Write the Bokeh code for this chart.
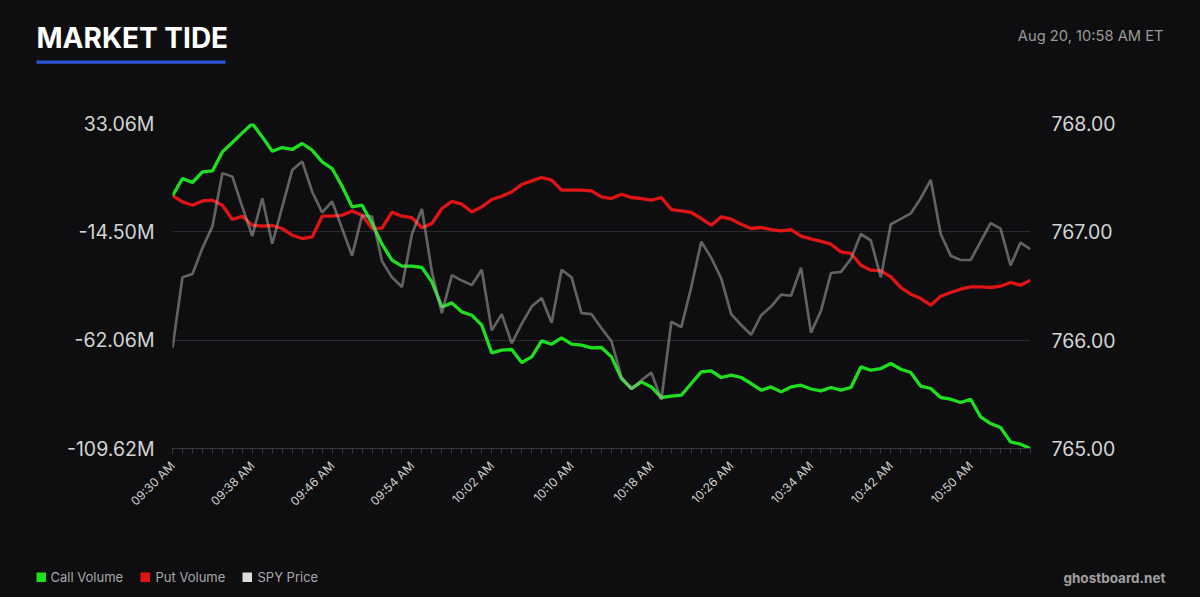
import math
from bokeh.plotting import figure
from bokeh.layouts import column
from bokeh.models import Range1d, LinearAxis, FixedTicker, PrintfTickFormatter
from bokeh.core.properties import value
from bokeh.embed import file_html
from bokeh.resources import INLINE

# ---------------- data ----------------
minutes = list(range(87))  # 09:30 .. 10:56, one point per minute

call_volume = [
    1.40, 8.91, 7.16, 11.81, 12.25, 20.59, 24.72, 28.93, 33.06, 27.18,
    20.90, 22.52, 21.65, 24.28, 21.34, 16.20, 13.30, 5.53, -3.55, -2.81,
    -10.71, -19.93, -26.95, -29.59, -29.59, -30.16, -36.48, -47.46, -45.70, -49.65,
    -51.10, -55.49, -67.65, -66.47, -66.16, -71.87, -69.41, -62.38, -63.83, -61.07,
    -63.83, -64.27, -65.46, -65.28, -69.41, -78.89, -83.28, -80.38, -82.58, -87.23,
    -86.66, -86.22, -81.09, -75.99, -75.55, -78.45, -77.44, -78.45, -81.09, -84.03,
    -82.58, -84.77, -82.58, -81.83, -83.50, -84.33, -82.84, -84.03, -82.84, -73.80,
    -75.25, -74.50, -72.30, -74.81, -76.26, -82.27, -83.28, -87.23, -87.98, -89.43,
    -87.98, -95.75, -98.65, -100.40, -106.72, -107.73, -109.62,
]

put_volume = [
    1.40, -1.36, -2.81, -0.92, -0.61, -2.81, -9.09, -7.64, -11.59, -12.03,
    -11.72, -13.04, -15.98, -17.43, -16.73, -7.64, -7.64, -7.20, -5.31, -7.20,
    -13.04, -12.90, -5.88, -7.64, -8.30, -12.69, -10.84, -4.26, -1.14, -2.37,
    -5.75, -3.55, -0.31, 1.14, 3.03, 6.28, 7.86, 9.35, 8.17, 3.78,
    3.78, 3.78, 3.47, 0.84, 0.13, 2.02, 0.57, 0.13, -0.61, 0.57,
    -4.70, -5.31, -6.01, -8.65, -11.59, -7.94, -8.95, -11.15, -13.04, -12.60,
    -13.48, -14.09, -13.48, -16.42, -17.60, -18.70, -19.93, -23.31, -24.01, -29.15,
    -31.34, -31.65, -34.29, -38.94, -41.88, -43.77, -46.71, -42.76, -41.13, -39.69,
    -38.68, -38.68, -38.94, -38.37, -36.74, -37.93, -35.73,
]

spy_price = [
    765.93, 766.58, 766.61, 766.85, 767.05, 767.54, 767.51, 767.23, 766.96, 767.31,
    766.89, 767.23, 767.57, 767.65, 767.37, 767.18, 767.28, 767.03, 766.78, 767.15,
    767.14, 766.73, 766.58, 766.49, 766.98, 767.21, 766.63, 766.25, 766.60, 766.55,
    766.51, 766.65, 766.09, 766.24, 765.97, 766.15, 766.31, 766.39, 766.16, 766.65,
    766.58, 766.25, 766.24, 766.11, 765.99, 765.66, 765.55, 765.63, 765.70, 765.45,
    766.17, 766.12, 766.49, 766.91, 766.76, 766.57, 766.24, 766.14, 766.05, 766.23,
    766.31, 766.42, 766.41, 766.67, 766.07, 766.27, 766.62, 766.63, 766.75, 766.98,
    766.92, 766.58, 767.07, 767.12, 767.17, 767.31, 767.48, 766.98, 766.78, 766.74,
    766.74, 766.91, 767.08, 767.03, 766.69, 766.90, 766.84,
]

volume_ticks = [33.06, -14.50, -62.06, -109.62]
price_ticks = [768.00, 767.00, 766.00, 765.00]
time_tick_positions = [0, 8, 16, 24, 32, 40, 48, 56, 64, 72, 80]
time_tick_labels = ["09:30 AM", "09:38 AM", "09:46 AM", "09:54 AM", "10:02 AM",
                    "10:10 AM", "10:18 AM", "10:26 AM", "10:34 AM", "10:42 AM",
                    "10:50 AM"]

title_text = "MARKET TIDE"
timestamp_text = "Aug 20, 10:58 AM ET"
brand_text = "ghostboard.net"
series_names = ["Call Volume", "Put Volume", "SPY Price"]

# ---------------- style ----------------
BG = "#0e0e10"
GREEN = "#1fe01f"
RED = "#e01414"
SPY_SWATCH = "#dcdcdc"
GRAY_LINE = "#a8a8a8"
GRID = "#2b2b2f"
FONT = "Inter"
W = 1200
H_HEAD, H_MAIN, H_FOOT = 100, 420, 77
DARK = {"background-color": BG}


def no_align(f):
    if "frame_align" in f.properties():
        f.frame_align = False
    return f


def blank(height):
    f = figure(width=W, height=height, output_backend="svg", toolbar_location=None,
               x_axis_type=None, y_axis_type=None,
               x_range=Range1d(0, W), y_range=Range1d(height, 0),
               min_border=0, min_border_left=0, min_border_right=0,
               min_border_top=0, min_border_bottom=0, styles=DARK)
    f.background_fill_color = BG
    f.border_fill_color = BG
    f.outline_line_color = None
    f.grid.visible = False
    return no_align(f)


# ---------------- header ----------------
head = blank(H_HEAD)
head.text(x=[36], y=[37], text=[title_text], text_font=value(FONT),
          text_font_size="28px", text_font_style="bold", text_color="#ffffff",
          text_align="left", text_baseline="middle")
head.quad(left=[36], right=[225], top=[60], bottom=[63.3], fill_color="#2d56d6",
          line_color=None)
head.text(x=[1163], y=[35.5], text=[timestamp_text], text_font=value(FONT),
          text_font_size="14.7px", text_color="#9a9a9a",
          text_align="right", text_baseline="middle")

# ---------------- main chart ----------------
p = figure(width=W, height=H_MAIN, output_backend="svg", toolbar_location=None,
           x_range=Range1d(minutes[0], minutes[-1]),
           y_range=Range1d(min(volume_ticks), max(volume_ticks)),
           min_border_left=172, min_border_right=170,
           min_border_top=23, min_border_bottom=72, styles=DARK)
no_align(p)
p.background_fill_color = BG
p.border_fill_color = BG
p.outline_line_color = None
p.extra_y_ranges = {"price": Range1d(min(price_ticks), max(price_ticks))}

xa = p.xaxis[0]
xa.ticker = FixedTicker(ticks=time_tick_positions, minor_ticks=minutes)
xa.major_label_overrides = {pos: lab for pos, lab in zip(time_tick_positions, time_tick_labels)}
xa.major_label_orientation = math.pi / 4
xa.major_label_text_font = FONT
xa.major_label_text_font_size = "12px"
xa.major_label_text_color = "#cfcfcf"
xa.major_label_standoff = 10
xa.axis_line_color = "#3a3a3e"
xa.major_tick_line_color = "#3a3a3e"
xa.minor_tick_line_color = "#3a3a3e"
xa.major_tick_in = 0
xa.major_tick_out = 5
xa.minor_tick_in = 0
xa.minor_tick_out = 5
p.xgrid.visible = False

vt = FixedTicker(ticks=volume_ticks)
ya = p.yaxis[0]
ya.ticker = vt
ya.formatter = PrintfTickFormatter(format="%.2fM")
ya.major_label_text_font = FONT
ya.major_label_text_font_size = "19.5px"
ya.major_label_text_color = "#d4d4d4"
ya.major_label_standoff = 12
ya.axis_line_color = None
ya.major_tick_line_color = None
ya.minor_tick_line_color = None
p.ygrid.ticker = vt
p.ygrid.grid_line_color = GRID
p.ygrid.grid_line_width = 1

ra = LinearAxis(y_range_name="price", ticker=FixedTicker(ticks=price_ticks),
                formatter=PrintfTickFormatter(format="%.2f"))
ra.major_label_text_font = FONT
ra.major_label_text_font_size = "19.5px"
ra.major_label_text_color = "#d4d4d4"
ra.major_label_standoff = 15
ra.axis_line_color = None
ra.major_tick_line_color = None
ra.minor_tick_line_color = None
p.add_layout(ra, "right")

p.line(minutes, put_volume, line_color=RED, line_width=3.3)
p.line(minutes, call_volume, line_color=GREEN, line_width=3.3)
p.line(minutes, spy_price, line_color=GRAY_LINE, line_width=2.7, line_alpha=0.55,
       y_range_name="price")

# ---------------- footer (legend + brand) ----------------
foot = blank(H_FOOT)
sw_left = [36, 140, 242]
txt_left = [50, 155, 257]
foot.quad(left=sw_left, right=[v + 9.5 for v in sw_left], top=[52] * 3, bottom=[61.5] * 3,
          fill_color=[GREEN, RED, SPY_SWATCH], line_color=None)
foot.text(x=txt_left, y=[56.5] * 3, text=series_names, text_font=value(FONT),
          text_font_size="13px", text_color="#a9a9a9",
          text_align="left", text_baseline="middle")
foot.text(x=[1165], y=[57], text=[brand_text], text_font=value(FONT),
          text_font_size="13.5px", text_font_style="bold", text_color="#a0a0a0",
          text_align="right", text_baseline="middle")

layout = column(head, p, foot, spacing=0, styles=DARK)
open("out.html", "w").write(file_html(layout, INLINE))
